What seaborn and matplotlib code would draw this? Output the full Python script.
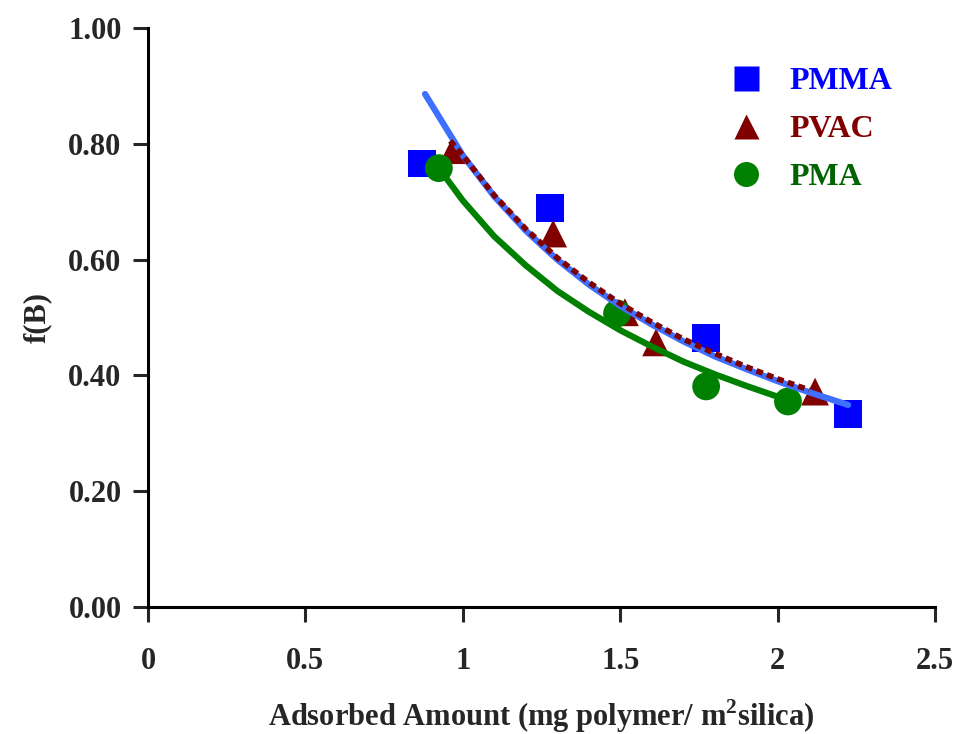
import matplotlib
matplotlib.use("Agg")
import matplotlib.pyplot as plt
import seaborn as sns
import pandas as pd
from matplotlib.lines import Line2D

# Data points
pmma_x = [0.870, 1.277, 1.773, 2.224]
pmma_y = [0.766, 0.689, 0.465, 0.334]
pvac_x = [0.969, 1.287, 1.515, 1.614, 2.119]
pvac_y = [0.789, 0.645, 0.509, 0.457, 0.372]
pma_x = [0.924, 1.490, 1.773, 2.033]
pma_y = [0.758, 0.507, 0.381, 0.355]

# Trend curves
pmma_fit_x = [0.88, 1.0, 1.1, 1.2, 1.3, 1.4, 1.5, 1.6, 1.7, 1.8, 1.9, 2.0, 2.1, 2.224]
pmma_fit_y = [0.886, 0.780, 0.709, 0.650, 0.600, 0.557, 0.520, 0.488, 0.459, 0.433, 0.411, 0.390, 0.371, 0.349]
pvac_fit_x = [0.96, 1.0, 1.1, 1.2, 1.3, 1.4, 1.5, 1.6, 1.7, 1.8, 1.9, 2.0, 2.1]
pvac_fit_y = [0.805, 0.780, 0.711, 0.653, 0.603, 0.561, 0.524, 0.492, 0.463, 0.438, 0.415, 0.394, 0.375]
pma_fit_x = [0.924, 1.0, 1.1, 1.2, 1.3, 1.4, 1.5, 1.6, 1.7, 1.8, 1.9, 2.033]
pma_fit_y = [0.758, 0.702, 0.640, 0.590, 0.546, 0.510, 0.478, 0.450, 0.424, 0.402, 0.382, 0.357]

series = ["PMMA", "PVAC", "PMA"]
x_ticks = [0, 0.5, 1, 1.5, 2, 2.5]
x_tick_labels = ["0", "0.5", "1", "1.5", "2", "2.5"]
y_ticks = [0.0, 0.2, 0.4, 0.6, 0.8, 1.0]
y_tick_labels = ["0.00", "0.20", "0.40", "0.60", "0.80", "1.00"]

sns.set_theme(style="white")
plt.rcParams["font.family"] = ["Liberation Serif", "DejaVu Serif"]
plt.rcParams["font.weight"] = "bold"
plt.rcParams["mathtext.fontset"] = "custom"
plt.rcParams["mathtext.rm"] = "Liberation Serif:bold"
plt.rcParams["mathtext.bf"] = "Liberation Serif:bold"

pts = pd.DataFrame({
    "x": pmma_x + pvac_x + pma_x,
    "y": pmma_y + pvac_y + pma_y,
    "s": ["PMMA"] * len(pmma_x) + ["PVAC"] * len(pvac_x) + ["PMA"] * len(pma_x),
})

marker_colors = {"PMMA": "#0000FF", "PVAC": "#800000", "PMA": "#008000"}
text_colors = ["#0000FF", "#800000", "#006400"]
markers = {"PMMA": "s", "PVAC": "^", "PMA": "o"}

fig = plt.figure(figsize=(9.56, 7.34), dpi=100)
ax = fig.add_axes([148 / 956, 1 - 607 / 734, (935 - 148) / 956, (607 - 28) / 734])

sns.scatterplot(data=pts, x="x", y="y", hue="s", style="s", palette=marker_colors,
                markers=markers, s=400, edgecolor="none", ax=ax, zorder=3, legend=False)

sns.lineplot(x=pmma_fit_x, y=pmma_fit_y, color="#3F6FFF", lw=4.5, ax=ax, zorder=4,
             solid_capstyle="round")
sns.lineplot(x=pvac_fit_x, y=pvac_fit_y, color="#800000", lw=4.0, ax=ax, zorder=5,
             linestyle=(0, (1.2, 0.8)))
sns.lineplot(x=pma_fit_x, y=pma_fit_y, color="#008000", lw=4.5, ax=ax, zorder=4,
             solid_capstyle="round")

ax.set_xlim(0, 2.5)
ax.set_ylim(0, 1.0)
ax.set_xticks(x_ticks)
ax.set_xticklabels(x_tick_labels)
ax.set_yticks(y_ticks)
ax.set_yticklabels(y_tick_labels)
ax.tick_params(axis="both", direction="out", length=11, width=2.2, labelsize=22,
               bottom=True, left=True)
ax.tick_params(axis="x", pad=18)
ax.tick_params(axis="y", pad=8)
for lab in ax.get_xticklabels() + ax.get_yticklabels():
    lab.set_fontweight("bold")
for side in ["top", "right"]:
    ax.spines[side].set_visible(False)
for side in ["left", "bottom"]:
    ax.spines[side].set_color("black")
    ax.spines[side].set_linewidth(2.2)

ax.set_xlabel("Adsorbed Amount (mg polymer/ m$^{2}$silica)", fontsize=22,
              fontweight="bold", labelpad=15)
ax.set_ylabel("f(B)", fontsize=22, fontweight="bold", labelpad=12)

handles = [Line2D([], [], ls="none", marker=markers[s], color=marker_colors[s],
                  markersize=18, markeredgecolor="none") for s in series]
leg = ax.legend(handles, series, loc="upper left", bbox_to_anchor=(0.703, 0.983),
                frameon=False, handlelength=1.0, handletextpad=0.85,
                labelspacing=0.58, labelcolor=text_colors,
                prop={"weight": "bold", "size": 23})

fig.savefig("out.png", dpi=100)
